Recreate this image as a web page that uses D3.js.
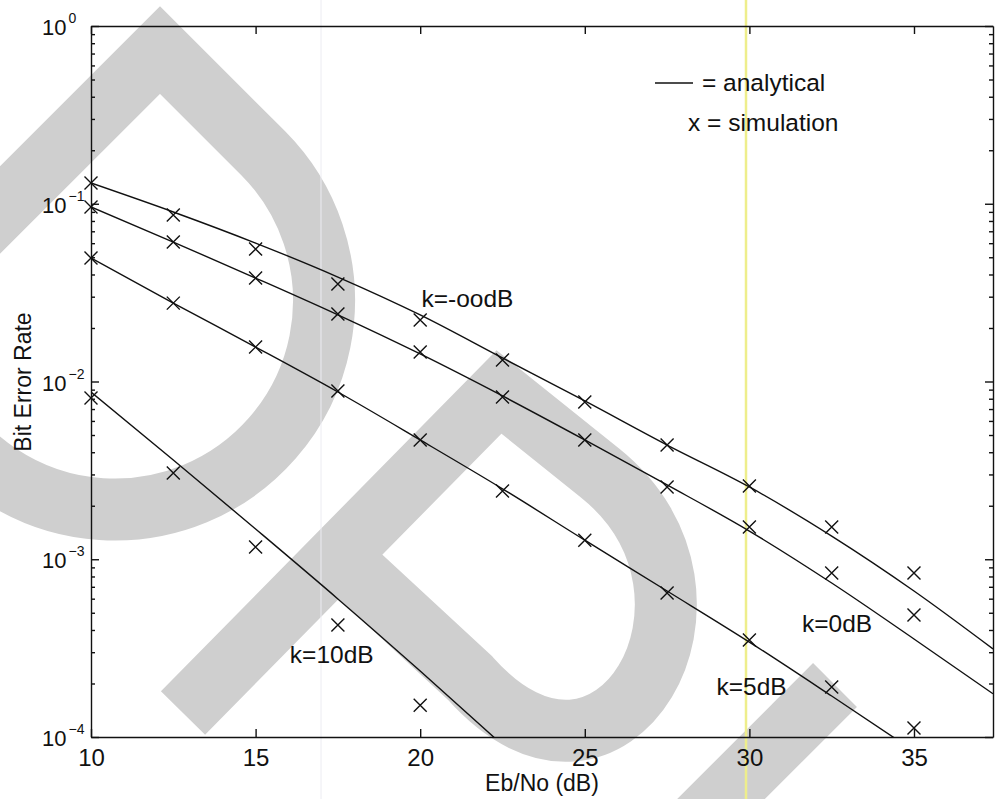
<!DOCTYPE html>
<html>
<head>
<meta charset="utf-8">
<script src="https://cdn.jsdelivr.net/npm/d3@7"></script>
<style>
  body { margin: 0; background: #fff; }
  svg { display: block; font-family: "Liberation Sans", Arial, Helvetica, sans-serif; }
</style>
</head>
<body>
<div class="viz"></div>
<script>
// Eb/No grid of the simulation points and of the analytical curves
var ebno = [10, 12.5, 15, 17.5, 20, 22.5, 25, 27.5, 30, 32.5, 35];
var curveX = [10, 12.5, 15, 17.5, 20, 22.5, 25, 27.5, 30, 32.5, 35, 37.4];

// analytical BER
var anaInf = [0.1308, 0.0899, 0.0601, 0.0387, 0.0237, 0.01356, 0.00777, 0.00439, 0.00255, 0.00135, 0.000663, 0.000313];
var ana0   = [0.0959, 0.0609, 0.0382, 0.0237, 0.01428, 0.00829, 0.00469, 0.00262, 0.00144, 0.000735, 0.000356, 0.000175];
var ana5   = [0.0495, 0.0276, 0.01563, 0.00873, 0.00469, 0.00249, 0.00128, 0.000663, 0.000342, 0.000170, 0.0000834];
var ana10  = [0.00873, 0.00362, 0.00148, 0.000598, 0.000235, 0.0000902];

// simulated BER (the x marks)
var simInf = [0.1308, 0.0865, 0.0556, 0.0354, 0.0222, 0.01321, 0.00767, 0.00439, 0.00258, 0.00152, 0.000837];
var sim0   = [0.0959, 0.0609, 0.0382, 0.0240, 0.01466, 0.00818, 0.00469, 0.00255, 0.00152, 0.000837, 0.000486];
var sim5   = [0.0495, 0.0276, 0.01563, 0.00884, 0.00469, 0.00242, 0.00128, 0.000646, 0.000351, 0.000191, 0.0001123];
var sim10  = [0.00808, 0.00306, 0.001172, 0.000427, 0.000151];

var xTicks = [10, 15, 20, 25, 30, 35];
var yDecades = [1e-4, 1e-3, 1e-2, 1e-1, 1];
var yExponents = ['\u22124', '\u22123', '\u22122', '\u22121', '0'];
var curveLabels = ['k=-oodB', 'k=0dB', 'k=5dB', 'k=10dB'];
var legendLabels = ['= analytical', 'x = simulation'];

var width = 996, height = 799;
var margin = {left: 91, right: 2, top: 26, bottom: 62};

var svg = d3.select('.viz').append('svg')
  .attr('width', width)
  .attr('height', height);

var x = d3.scaleLinear()
  .domain([10, 37.4])
  .range([margin.left, width - margin.right - 1]);

var y = d3.scaleLog()
  .domain([1e-4, 1])
  .range([height - margin.bottom, margin.top]);

var plotBottom = y.range()[0], plotTop = y.range()[1];
var plotLeft = x.range()[0], plotRight = x.range()[1];

/* scan background: grey watermark strokes, a faint crease and the yellow marker line */
var bg = svg.append('g')
  .attr('fill', 'none')
  .attr('stroke', '#cfcfcf')
  .attr('stroke-width', 62)
  .attr('stroke-linejoin', 'miter');

bg.append('path')
  .attr('d', 'M-200,410 L160,50 L263,153 A209,209 0 1 1 -94,301');
bg.append('path')
  .attr('d', 'M183,713 L499,392 L600,473 C752,595 612,838 470,678 L336,554');
bg.append('path')
  .attr('d', 'M835,685 L620,900');

svg.append('line')
  .attr('x1', 321).attr('x2', 321)
  .attr('y1', 0).attr('y2', height)
  .attr('stroke', '#ececf2')
  .attr('stroke-width', 1);

svg.append('line')
  .attr('x1', 746).attr('x2', 746)
  .attr('y1', 0).attr('y2', height)
  .attr('stroke', '#eeee8c')
  .attr('stroke-width', 2.5);

/* axes */
var yMinor = [];
yDecades.slice(0, -1).forEach(function(d){
  for (var m = 2; m < 10; m++) yMinor.push(d * m);
});

function styleAxis(g){
  g.selectAll('path, line').attr('stroke', '#111').attr('stroke-width', 1.4);
  g.attr('font-family', null).attr('font-size', null);
}

svg.append('g')
  .attr('transform', 'translate(0,' + plotBottom + ')')
  .call(d3.axisBottom(x).tickValues(xTicks).tickSizeInner(-8).tickSizeOuter(0)
    .tickPadding(12).tickFormat(d3.format('d')))
  .call(styleAxis)
  .selectAll('text')
    .attr('font-size', 24)
    .attr('fill', '#111');

svg.append('g')
  .attr('transform', 'translate(0,' + plotTop + ')')
  .call(d3.axisTop(x).tickValues(xTicks).tickSizeInner(-8).tickSizeOuter(0).tickFormat(''))
  .call(styleAxis);

svg.append('g')
  .attr('transform', 'translate(' + plotLeft + ',0)')
  .call(d3.axisLeft(y).tickValues(yDecades).tickSizeInner(-8).tickSizeOuter(0).tickFormat(''))
  .call(styleAxis);

svg.append('g')
  .attr('transform', 'translate(' + plotLeft + ',0)')
  .call(d3.axisLeft(y).tickValues(yMinor).tickSizeInner(-4).tickSizeOuter(0).tickFormat(''))
  .call(styleAxis)
  .select('.domain').remove();

svg.append('g')
  .attr('transform', 'translate(' + plotRight + ',0)')
  .call(d3.axisRight(y).tickValues(yDecades).tickSizeInner(-8).tickSizeOuter(0).tickFormat(''))
  .call(styleAxis);

svg.append('g')
  .attr('transform', 'translate(' + plotRight + ',0)')
  .call(d3.axisRight(y).tickValues(yMinor).tickSizeInner(-4).tickSizeOuter(0).tickFormat(''))
  .call(styleAxis)
  .select('.domain').remove();

// 10^n labels on the log axis
var ylab = svg.selectAll('.ylab')
  .data(yDecades)
  .enter()
  .append('text')
  .attr('class', 'ylab')
  .attr('x', 42)
  .attr('y', function(d){ return y(d) + 9; })
  .attr('font-size', 22)
  .attr('fill', '#111')
  .text('10');
ylab.append('tspan')
  .attr('dx', 2)
  .attr('dy', -12)
  .attr('font-size', 14)
  .text(function(d, i){ return yExponents[i]; });

svg.append('text')
  .attr('x', 542)
  .attr('y', 791)
  .attr('text-anchor', 'middle')
  .attr('font-size', 23)
  .attr('fill', '#111')
  .text('Eb/No (dB)');

svg.append('text')
  .attr('transform', 'translate(31,382) rotate(-90)')
  .attr('text-anchor', 'middle')
  .attr('font-size', 23)
  .attr('fill', '#111')
  .text('Bit Error Rate');

/* curves */
svg.append('clipPath')
  .attr('id', 'plotClip')
  .append('rect')
  .attr('x', plotLeft).attr('y', plotTop)
  .attr('width', plotRight - plotLeft).attr('height', plotBottom - plotTop);

var line = d3.line()
  .x(function(d){ return x(d[0]); })
  .y(function(d){ return y(d[1]); })
  .curve(d3.curveMonotoneX);

var analytic = [anaInf, ana0, ana5, ana10].map(function(s){
  return s.map(function(v, i){ return [curveX[i], v]; });
});

svg.append('g')
  .attr('clip-path', 'url(#plotClip)')
  .selectAll('path')
  .data(analytic)
  .enter()
  .append('path')
  .attr('d', line)
  .attr('fill', 'none')
  .attr('stroke', '#111')
  .attr('stroke-width', 1.4);

var simulated = [];
[simInf, sim0, sim5, sim10].forEach(function(s){
  s.forEach(function(v, i){ simulated.push([ebno[i], v]); });
});

svg.append('g')
  .selectAll('path')
  .data(simulated)
  .enter()
  .append('path')
  .attr('transform', function(d){ return 'translate(' + x(d[0]) + ',' + y(d[1]) + ')'; })
  .attr('d', 'M-6.5,-6.5L6.5,6.5M-6.5,6.5L6.5,-6.5')
  .attr('stroke', '#111')
  .attr('stroke-width', 1.4);

/* curve names, anchored in data coordinates */
var labelAt = [[20.04, 0.0262], [31.6, 0.00039], [29.0, 0.000172], [16.04, 0.00026]];
svg.selectAll('.klab')
  .data(curveLabels)
  .enter()
  .append('text')
  .attr('class', 'klab')
  .attr('x', function(d, i){ return x(labelAt[i][0]); })
  .attr('y', function(d, i){ return y(labelAt[i][1]); })
  .attr('font-size', 24.5)
  .attr('fill', '#111')
  .text(function(d){ return d; });

/* legend */
svg.append('line')
  .attr('x1', 655).attr('x2', 693)
  .attr('y1', 83).attr('y2', 83)
  .attr('stroke', '#111')
  .attr('stroke-width', 1.4);

svg.selectAll('.leg')
  .data(legendLabels)
  .enter()
  .append('text')
  .attr('class', 'leg')
  .attr('x', function(d, i){ return i ? 688 : 702; })
  .attr('y', function(d, i){ return i ? 131 : 91; })
  .attr('font-size', 24.5)
  .attr('fill', '#111')
  .text(function(d){ return d; });
</script>
</body>
</html>
